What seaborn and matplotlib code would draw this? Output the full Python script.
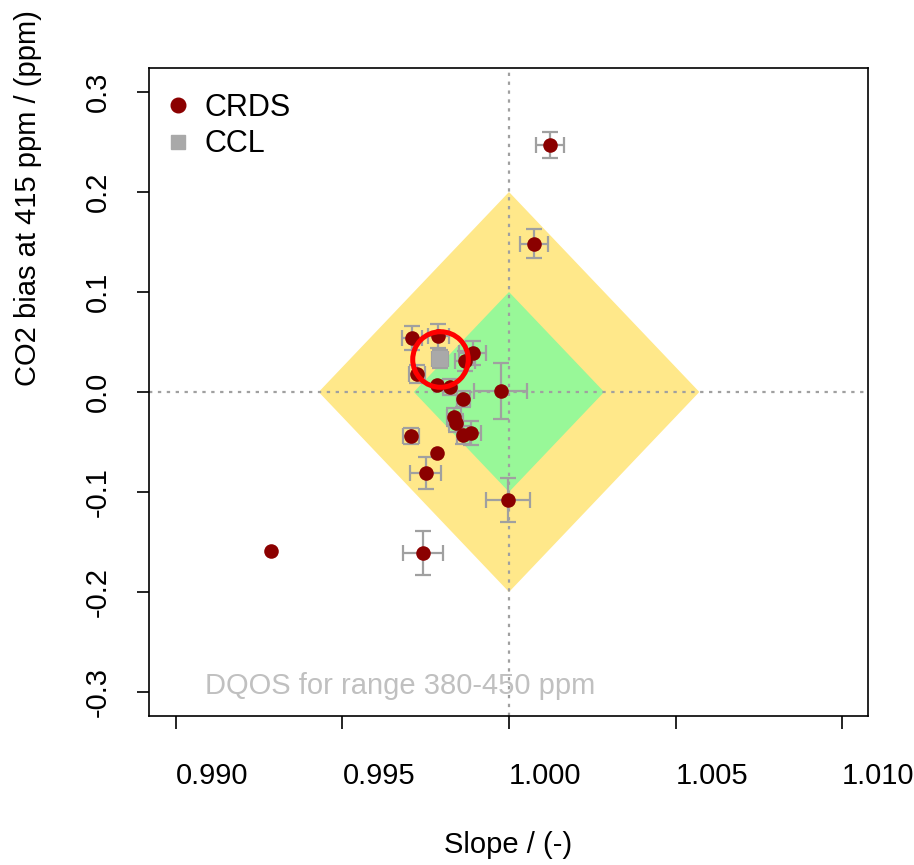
import numpy as np
import pandas as pd
import seaborn as sns
import matplotlib
matplotlib.use("Agg")
import matplotlib.pyplot as plt

# CRDS results: slope, bias at 415 ppm and their uncertainties
crds_slope = [0.99710, 0.99788, 0.99891, 0.99868, 0.99725, 0.99783, 0.99823,
              0.99975, 0.99863, 0.99835, 0.99841, 0.99863, 0.99885, 0.99705,
              0.99785, 0.99750, 0.99998, 0.99743, 1.00123, 1.00076, 0.99285]
crds_bias = [0.054, 0.056, 0.039, 0.031, 0.018, 0.007, 0.005,
             0.001, -0.007, -0.025, -0.031, -0.043, -0.041, -0.044,
             -0.061, -0.081, -0.108, -0.161, 0.247, 0.148, -0.159]
crds_slope_err = [0.00030, 0.00032, 0.00040, 0.00030, 0.00024, 0.0, 0.00020,
                  0.00079, 0.00020, 0.00020, 0.00020, 0.00020, 0.00030, 0.00024,
                  0.0, 0.00046, 0.00066, 0.00060, 0.00043, 0.00042, 0.0]
crds_bias_err = [0.012, 0.012, 0.012, 0.010, 0.009, 0.0, 0.008,
                 0.028, 0.008, 0.009, 0.009, 0.009, 0.012, 0.008,
                 0.0, 0.016, 0.022, 0.022, 0.013, 0.0145, 0.0]

# CCL reference
ccl_slope = [0.99793]
ccl_bias = [0.033]
ccl_slope_err = [0.00025]
ccl_bias_err = [0.009]

# DQOs: bias tolerance (ppm) and half width of the 380-450 ppm range
dqo_bias = [0.2, 0.1]
dqo_colors = ["#FFE88A", "#98F898"]
half_range = 35.0

x_ticks = [0.990, 0.995, 1.000, 1.005, 1.010]
x_labels = ["0.990", "0.995", "1.000", "1.005", "1.010"]
y_ticks = [-0.3, -0.2, -0.1, 0.0, 0.1, 0.2, 0.3]
y_labels = ["-0.3", "-0.2", "-0.1", "0.0", "0.1", "0.2", "0.3"]

sns.set_theme(style="white")
plt.rcParams["font.family"] = ["Liberation Sans", "DejaVu Sans"]
plt.rcParams["text.color"] = "black"
plt.rcParams["axes.labelcolor"] = "black"
plt.rcParams["xtick.color"] = "black"
plt.rcParams["ytick.color"] = "black"

fig = plt.figure(figsize=(9.14, 8.65), dpi=100)
ax = fig.add_axes([0.1630, 0.1723, 0.7867, 0.7491])

# DQO diamonds
for b, c in zip(dqo_bias, dqo_colors):
    s = b / half_range
    ax.fill([1 - s, 1, 1 + s, 1], [0, b, 0, -b], color=c, lw=0, zorder=1)

ax.axvline(1.0, color="#A0A0A0", lw=1.6, ls=(0, (1.5, 2.5)), zorder=2)
ax.axhline(0.0, color="#A0A0A0", lw=1.6, ls=(0, (1.5, 2.5)), zorder=2)

df = pd.DataFrame({"slope": crds_slope, "bias": crds_bias,
                   "xerr": crds_slope_err, "yerr": crds_bias_err})
eb = df[(df.xerr > 0) | (df.yerr > 0)]
ax.errorbar(eb.slope, eb.bias, xerr=eb.xerr, yerr=eb.yerr, fmt="none",
            ecolor="#A0A0A0", elinewidth=1.6, capsize=6, capthick=1.6, zorder=3)
ax.errorbar(ccl_slope, ccl_bias, xerr=ccl_slope_err, yerr=ccl_bias_err, fmt="none",
            ecolor="#A0A0A0", elinewidth=1.6, capsize=6, capthick=1.6, zorder=3)

sns.scatterplot(x=ccl_slope, y=ccl_bias, ax=ax, marker="s", color="#A9A9A9",
                s=130, linewidth=0, zorder=4)
sns.scatterplot(data=df, x="slope", y="bias", ax=ax, marker="o", color="#8B0000",
                s=110, linewidth=0, zorder=5)
ax.plot(ccl_slope, ccl_bias, marker="o", ms=40, mfc="none", mec="#FF0000",
        mew=3.6, ls="none", zorder=6)

ax.text(0.99087, -0.294, "DQOS for range 380-450 ppm", color="#C0C0C0",
        fontsize=21, ha="left", va="center", zorder=6)

# legend
h1 = plt.Line2D([], [], marker="o", color="#8B0000", ls="none", ms=10.5)
h2 = plt.Line2D([], [], marker="s", color="#A9A9A9", ls="none", ms=9.5)
ax.legend([h1, h2], ["CRDS", "CCL"], loc="upper left", frameon=False,
          fontsize=22, handletextpad=0.2, labelspacing=0.2,
          borderaxespad=0.0, bbox_to_anchor=(-0.004, 0.98), handlelength=1.3)

ax.set_xlim(0.98919, 1.01078)
ax.set_ylim(-0.324, 0.324)
ax.set_xticks(x_ticks)
ax.set_xticklabels(x_labels, ha="left")
ax.set_yticks(y_ticks)
ax.set_yticklabels(y_labels, rotation=90, va="center")
ax.tick_params(axis="both", direction="out", length=9, width=1.2,
               color="black", labelsize=21, bottom=True, left=True)
ax.tick_params(axis="x", pad=24)
ax.tick_params(axis="y", pad=18)
for sp in ax.spines.values():
    sp.set_color("black")
    sp.set_linewidth(1.2)

ax.set_xlabel("Slope / (-)", fontsize=21, labelpad=30)
ax.set_ylabel("CO2 bias at 415 ppm / (ppm)", fontsize=21)
ax.yaxis.set_label_coords(-0.149, 0.80)

fig.savefig("out.png", dpi=100)
